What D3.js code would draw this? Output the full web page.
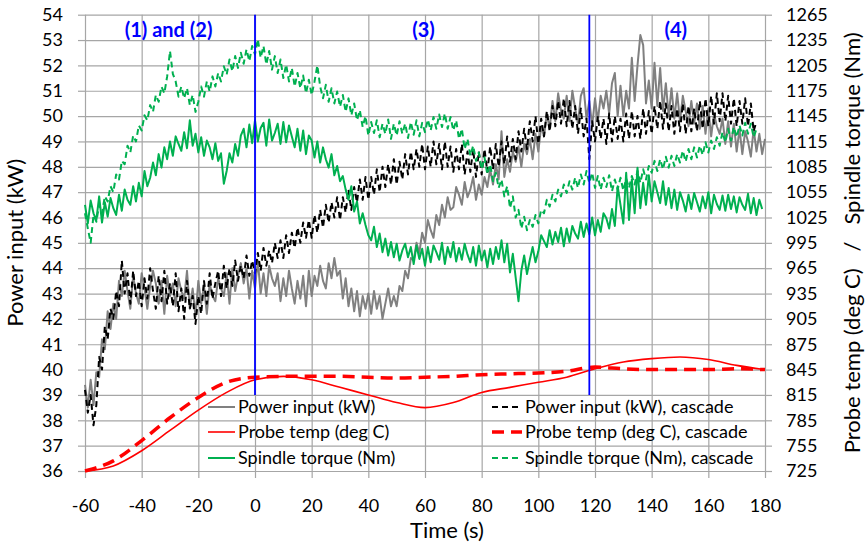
<!DOCTYPE html>
<html>
<head>
<meta charset="utf-8">
<script src="https://cdn.jsdelivr.net/npm/d3@7"></script>
<style>
  html, body { margin: 0; padding: 0; background: #fff; }
  svg { display: block; font-family: Lato, "Open Sans", sans-serif; }
</style>
</head>
<body>
<svg id="chart" width="867" height="549"></svg>
<script>
// ---- Data -------------------------------------------------------------
// Sampled once per second from t = -60 s to t = 180 s.
const startTime = -60;
const sampleStep = 1;

const xTicks = [-60, -40, -20, 0, 20, 40, 60, 80, 100, 120, 140, 160, 180];
const powerTicks = [36, 37, 38, 39, 40, 41, 42, 43, 44, 45, 46, 47, 48, 49, 50, 51, 52, 53, 54];
const rightTicks = [725, 755, 785, 815, 845, 875, 905, 935, 965, 995, 1025, 1055, 1085, 1115, 1145, 1175, 1205, 1235, 1265];

// Power input (kW)
const powerInput = [
  39.4, 38.5, 39.6, 38.6, 39.9, 39.7, 41.2, 40.8, 42.3, 41.6,
  42.6, 42.0, 43.5, 42.9, 43.9, 43.1, 42.4, 43.7, 43.0, 42.6,
  43.8, 43.2, 42.4, 43.3, 43.9, 43.4, 42.6, 43.5, 42.2, 43.7,
  42.9, 43.4, 42.5, 43.6, 43.1, 42.8, 43.9, 42.4, 43.2, 42.1,
  43.5, 42.6, 43.3, 42.2, 43.4, 42.9, 42.7, 43.6, 43.2, 42.9,
  43.8, 42.6, 44.0, 43.1, 43.7, 44.2, 43.4, 44.0, 42.8, 43.9,
  43.2, 44.3, 43.0, 43.8, 42.9, 44.1, 43.6, 43.3, 43.8, 42.7,
  43.6, 42.9, 43.9, 43.2, 42.6, 43.5, 42.8, 43.7, 42.5, 43.9,
  42.9, 43.7, 43.3, 44.1, 43.5, 43.2, 44.2, 43.6, 44.4, 43.7,
  43.9, 42.8, 43.6, 42.5, 43.2, 42.3, 43.1, 42.1, 42.9, 42.4,
  43.0, 42.2, 43.1, 42.4, 42.9, 42.0, 42.6, 43.2, 42.5, 42.9,
  42.5, 43.3, 43.1, 43.9, 43.6, 44.4, 44.3, 45.0, 44.6, 45.4,
  45.0, 45.9, 45.5, 45.2, 46.1, 45.7, 46.5, 46.0, 46.8, 46.3,
  46.4, 47.2, 46.9, 46.5, 47.4, 46.8, 47.1, 47.6, 46.7, 47.3,
  46.9, 47.6, 47.2, 47.9, 47.3, 48.1, 47.5, 49.4, 47.6, 48.3,
  47.8, 48.6, 48.2, 48.8, 48.0, 48.9, 48.5, 49.1, 48.3, 49.3,
  48.6, 49.6, 49.2, 50.1, 49.5, 50.6, 49.8, 50.9, 50.2, 49.9,
  50.8, 49.8, 51.0, 50.3, 49.7, 50.8, 51.1, 49.9, 50.6, 49.6,
  50.7, 49.8, 50.8, 50.3, 51.0, 50.1, 51.3, 51.7, 50.0, 51.2,
  50.0, 51.0, 50.3, 52.3, 50.6, 52.0, 53.2, 52.8, 50.5, 51.4,
  50.3, 52.1, 50.4, 51.9, 50.2, 51.3, 50.0, 51.1, 49.9, 50.9,
  49.8, 50.8, 50.2, 49.6, 50.6, 49.7, 50.5, 49.5, 50.4, 49.3,
  50.3, 49.2, 50.1, 49.6, 49.3, 49.9, 48.9, 49.8, 48.8, 49.7,
  48.6, 49.5, 48.5, 49.4, 49.0, 48.4, 49.5, 48.6, 49.3, 48.5,
  49.1
];

// Power input (kW), cascade
const powerInputCascade = [
  39.2, 38.3, 39.0, 37.8, 38.6, 40.5, 40.0, 41.7, 41.2, 42.4,
  42.0, 43.1, 42.5, 44.3, 43.0, 43.8, 42.6, 43.9, 42.9, 43.5,
  42.5, 43.6, 42.8, 44.0, 43.1, 42.4, 43.7, 42.7, 43.9, 42.6,
  43.4, 42.5, 43.8, 42.3, 43.2, 42.0, 43.5, 42.4, 42.9, 41.8,
  42.9, 42.2, 43.5, 42.6, 43.8, 42.8, 43.4, 43.9, 42.9, 44.1,
  43.2, 44.0, 43.3, 44.3, 43.5, 44.1, 43.6, 44.5, 43.7, 44.3,
  43.8, 44.6, 43.9, 44.8, 44.1, 44.7, 44.2, 45.0, 44.4, 45.1,
  44.4, 45.3, 44.6, 45.4, 44.8, 45.6, 45.0, 45.8, 45.2, 45.9,
  45.2, 46.1, 45.4, 46.3, 45.6, 46.5, 45.8, 46.6, 46.0, 46.8,
  45.9, 46.8, 46.2, 47.1, 46.3, 47.2, 46.6, 47.5, 46.7, 47.6,
  46.7, 47.6, 46.9, 47.9, 47.0, 48.0, 47.2, 48.1, 47.3, 48.3,
  47.3, 48.2, 47.5, 48.5, 47.7, 48.6, 47.9, 48.7, 48.0, 48.9,
  47.9, 48.8, 48.0, 49.0, 48.1, 48.9, 47.9, 49.0, 48.0, 48.8,
  47.8, 48.7, 47.9, 48.9, 47.7, 48.6, 47.8, 48.7, 47.6, 48.6,
  47.7, 48.7, 47.8, 48.8, 47.9, 48.9, 48.0, 49.0, 48.1, 49.2,
  48.2, 49.1, 48.3, 49.4, 48.6, 49.5, 48.7, 49.8, 49.0, 50.0,
  48.9, 49.9, 49.2, 50.2, 49.4, 50.4, 49.6, 50.6, 49.7, 50.7,
  49.6, 50.6, 49.5, 50.4, 49.3, 50.3, 49.2, 49.9, 48.3, 49.8,
  49.0, 50.0, 49.1, 49.9, 48.9, 50.1, 49.0, 50.0, 49.1, 49.9,
  49.0, 50.1, 49.1, 50.2, 49.2, 50.0, 49.1, 50.3, 49.3, 50.2,
  49.3, 50.4, 49.5, 50.6, 49.5, 50.5, 49.4, 50.4, 49.3, 50.3,
  49.4, 50.5, 49.3, 50.4, 49.4, 50.3, 49.4, 50.6, 49.5, 50.7,
  49.6, 50.8, 49.7, 50.9, 49.8, 50.9, 49.8, 50.8, 49.7, 50.7,
  49.6, 50.6, 49.7, 50.7, 49.6, 50.5, 49.4, 49.8, null, null,
  null
];

// Spindle torque (Nm)
const spindleTorque = [
  1040, 1018, 1045, 1030, 1022, 1050, 1019, 1043, 1026, 1048,
  1036, 1028, 1052, 1033, 1058, 1046, 1040, 1062, 1044, 1066,
  1050, 1080, 1062, 1072, 1090, 1075, 1100, 1084, 1108, 1094,
  1115, 1098, 1121, 1112, 1104, 1126, 1107, 1140, 1110, 1124,
  1102, 1120, 1098, 1116, 1108, 1094, 1113, 1092, 1101, 1065,
  1080, 1101, 1090, 1112, 1098, 1122, 1130, 1108, 1135, 1113,
  1140, 1115, 1131, 1137, 1110, 1141, 1116, 1125, 1136, 1112,
  1138, 1114, 1134, 1121, 1108, 1130, 1104, 1128, 1100, 1122,
  1116, 1096, 1115, 1090, 1108, 1094, 1084, 1100, 1075, 1086,
  1068, 1074, 1058, 1046, 1062, 1032, 1044, 1018, 1030, 1016,
  1004, 998, 1014, 990, 1006, 984, 1000, 980, 996, 978,
  994, 974, 986, 994, 978, 990, 970, 992, 976, 988,
  968, 990, 972, 992, 984, 975, 995, 970, 990, 978,
  996, 973, 989, 975, 994, 981, 972, 990, 968, 992,
  974, 986, 966, 988, 970, 990, 976, 998, 972, 994,
  960, 982, 954, 926, 962, 980, 958, 975, 990, 972,
  985, 1004, 997, 990, 1010, 993, 1008, 996, 1013, 991,
  1012, 996, 1015, 1006, 1000, 1020, 1002, 1018, 1005, 1025,
  1004, 1022, 1008, 1030, 1024, 1012, 1035, 1015, 1062, 1040,
  1018, 1078, 1022, 1070, 1030, 1084, 1036, 1066, 1040, 1075,
  1044, 1068, 1055, 1042, 1068, 1040, 1060, 1036, 1058, 1034,
  1055, 1045, 1032, 1052, 1035, 1054, 1043, 1032, 1050, 1036,
  1055, 1030, 1052, 1041, 1034, 1051, 1033, 1052, 1035, 1050,
  1031, 1049, 1040, 1034, 1053, 1030, 1048, 1028, 1046, 1035,
  null
];

// Spindle torque (Nm), cascade
const spindleTorqueCascade = [
  1030, 1012, 995, 1028, 1020, 1040, 1030, 1050, 1044, 1062,
  1055, 1076, 1070, 1092, 1088, 1110, 1102, 1122, 1115, 1134,
  1128, 1146, 1140, 1158, 1150, 1170, 1162, 1180, 1172, 1192,
  1222, 1195, 1186, 1168, 1180, 1166, 1178, 1158, 1170, 1150,
  1162, 1180, 1168, 1186, 1174, 1192, 1180, 1196, 1186, 1204,
  1194, 1212, 1198, 1216, 1202, 1220, 1207, 1224, 1210, 1228,
  1218, 1236, 1214, 1228, 1206, 1222, 1200, 1216, 1196, 1212,
  1190, 1206, 1186, 1202, 1180, 1196, 1178, 1193, 1172, 1188,
  1170, 1186, 1205, 1180, 1166, 1182, 1162, 1178, 1160, 1174,
  1156, 1170, 1150, 1166, 1146, 1160, 1140, 1152, 1132, 1145,
  1122, 1138, 1125, 1140, 1120, 1136, 1124, 1141, 1118, 1136,
  1122, 1139, 1124, 1136, 1119, 1138, 1123, 1140, 1121, 1137,
  1126, 1141, 1128, 1144, 1130, 1147, 1132, 1148, 1130, 1144,
  1128, 1140, 1118, 1130, 1106, 1118, 1098, 1110, 1092, 1102,
  1082, 1096, 1076, 1088, 1068, 1078, 1060, 1070, 1050, 1062,
  1036, 1050, 1025, 1034, 1012, 1026, 1010, 1022, 1014, 1028,
  1018, 1034, 1030, 1046, 1038, 1052, 1044, 1058, 1050, 1064,
  1054, 1068, 1058, 1072, 1060, 1076, 1064, 1080, 1066, 1078,
  1060, 1074, 1058, 1072, 1061, 1075, 1056, 1070, 1058, 1072,
  1057, 1071, 1060, 1074, 1064, 1080, 1066, 1082, 1070, 1086,
  1078, 1092, 1080, 1094, 1082, 1097, 1084, 1098, 1086, 1100,
  1090, 1104, 1091, 1106, 1094, 1108, 1096, 1110, 1099, 1114,
  1102, 1116, 1106, 1120, 1110, 1126, 1114, 1130, 1116, 1132,
  1120, 1134, 1122, 1137, 1124, 1136, 1120, 1130, null, null,
  null
];

// Probe temperature (deg C), every 10 s
const tempTimes = [-60, -50, -40, -30, -20, -10, 0, 10, 20, 30, 40, 50, 60, 70, 80, 90, 100, 110, 120, 130, 140, 150, 160, 170, 180];
const probeTemp = [725, 731, 749, 773, 797, 818, 833, 837, 833, 824, 815, 806, 800, 806, 818, 824, 830, 836, 846, 854, 858, 860, 857, 850, 845];
const probeTempCascade = [725, 737, 761, 788, 812, 830, 836, 837, 837, 837, 836, 835, 836, 837, 839, 840, 841, 843, 848, 846, 845, 845, 845, 846, 845];

// Phase boundaries (s) and phase labels
const phaseBounds = [0, 118];
const phaseBoundRange = [39, 54];
const phaseLabels = [
  { text: "(1) and (2)", t: -30.5 },
  { text: "(3)", t: 59.5 },
  { text: "(4)", t: 148.5 }
];

// ---- Layout -----------------------------------------------------------
const margin = { left: 85, top: 14.7, right: 102, bottom: 78 };
const svg = d3.select("#chart");
const width = 867 - margin.left - margin.right;   // 680
const height = 549 - margin.top - margin.bottom;  // ~456
const g = svg.append("g").attr("transform", `translate(${margin.left},${margin.top})`);

const x = d3.scaleLinear().domain([-60, 180]).range([0, width]);
const yL = d3.scaleLinear().domain([36, 54]).range([height, 0]);
const yR = d3.scaleLinear().domain([725, 1265]).range([height, 0]);

const gridColor = "#a6a6a6";
const font = "Lato, 'Open Sans', sans-serif";
const plainNumber = d => String(d);

// Gridlines
g.append("g").attr("class", "grid-h")
  .call(d3.axisLeft(yL).tickValues(powerTicks).tickSize(-width).tickFormat(""))
  .call(s => s.select(".domain").remove())
  .call(s => s.selectAll("line").attr("stroke", gridColor).attr("stroke-width", 1.2));
g.append("g").attr("class", "grid-v")
  .call(d3.axisBottom(x).tickValues(xTicks).tickSize(height).tickFormat(""))
  .call(s => s.select(".domain").remove())
  .call(s => s.selectAll("line").attr("stroke", gridColor).attr("stroke-width", 1.2));

// Axes
function styleAxis(s) {
  s.select(".domain").remove();
  s.selectAll("line").attr("stroke", gridColor).attr("stroke-width", 1.2);
  s.selectAll("text").attr("fill", "#000").style("font-family", font).style("font-size", "18px");
}
g.append("g")
  .call(d3.axisLeft(yL).tickValues(powerTicks).tickFormat(plainNumber).tickSize(7).tickPadding(15))
  .call(styleAxis);
g.append("g").attr("transform", `translate(${width},0)`)
  .call(d3.axisRight(yR).tickValues(rightTicks).tickFormat(plainNumber).tickSize(7).tickPadding(14))
  .call(styleAxis);
g.append("g").attr("transform", `translate(0,${height})`)
  .call(d3.axisBottom(x).tickValues(xTicks).tickFormat(plainNumber).tickSize(7).tickPadding(20))
  .call(styleAxis)
  .call(s => s.selectAll("text").attr("dy", null).attr("y", 41));

// Axis titles
svg.append("text")
  .attr("transform", `translate(23,${margin.top + height / 2}) rotate(-90)`)
  .attr("text-anchor", "middle")
  .style("font-family", font).style("font-size", "22px").attr("fill", "#000")
  .text("Power input (kW)");
svg.append("text")
  .attr("transform", `translate(860,${margin.top + height / 2}) rotate(-90)`)
  .attr("text-anchor", "middle")
  .style("font-family", font).style("font-size", "22px").style("white-space", "pre").attr("fill", "#000")
  .text("Probe temp (deg C)   /   Spindle torque (Nm)");
svg.append("text")
  .attr("x", 447).attr("y", 538)
  .attr("text-anchor", "middle")
  .style("font-family", font).style("font-size", "22px").attr("fill", "#000")
  .text("Time (s)");

// ---- Series -----------------------------------------------------------
const toPoints = arr => arr.map((v, i) => ({ t: startTime + i * sampleStep, v }));
const lineL = d3.line().defined(d => d.v != null).x(d => x(d.t)).y(d => yL(d.v));
const lineR = d3.line().defined(d => d.v != null).x(d => x(d.t)).y(d => yR(d.v));
const smoothR = d3.line().x(d => x(d.t)).y(d => yR(d.v)).curve(d3.curveMonotoneX);

const plot = g.append("g");

const series = [
  { name: "Power input (kW)", data: toPoints(powerInput), gen: lineL, color: "#808080", w: 2, dash: null },
  { name: "Power input (kW), cascade", data: toPoints(powerInputCascade), gen: lineL, color: "#000000", w: 2, dash: "6,4" },
  { name: "Probe temp (deg C)", data: tempTimes.map((t, i) => ({ t, v: probeTemp[i] })), gen: smoothR, color: "#ff0000", w: 1.6, dash: null },
  { name: "Probe temp (deg C), cascade", data: tempTimes.map((t, i) => ({ t, v: probeTempCascade[i] })), gen: smoothR, color: "#ff0000", w: 3.5, dash: "12,7" },
  { name: "Spindle torque (Nm)", data: toPoints(spindleTorque), gen: lineR, color: "#00b050", w: 2, dash: null },
  { name: "Spindle torque (Nm), cascade", data: toPoints(spindleTorqueCascade), gen: lineR, color: "#00b050", w: 2, dash: "6,4" }
];

series.forEach(s => {
  plot.append("path")
    .datum(s.data)
    .attr("fill", "none")
    .attr("stroke", s.color)
    .attr("stroke-width", s.w)
    .attr("stroke-dasharray", s.dash)
    .attr("stroke-linejoin", "round")
    .attr("d", s.gen);
});

// Phase boundaries
g.selectAll(".phase").data(phaseBounds).join("line")
  .attr("x1", d => x(d)).attr("x2", d => x(d))
  .attr("y1", yL(phaseBoundRange[0])).attr("y2", yL(phaseBoundRange[1]))
  .attr("stroke", "#0000ff").attr("stroke-width", 1.8);

g.selectAll(".phase-label").data(phaseLabels).join("text")
  .attr("x", d => x(d.t)).attr("y", 22)
  .attr("text-anchor", "middle")
  .style("font-family", font).style("font-size", "20px").style("font-weight", "bold")
  .attr("fill", "#0000ff")
  .text(d => d.text);

// ---- Legend -------------------------------------------------------------
const legendOrder = [0, 2, 4, 1, 3, 5];
const legendCols = [{ x: 208 - margin.left, len: 27 }, { x: 492 - margin.left, len: 30 }];
const legendRows = [407, 432, 458].map(v => v - margin.top);
const legend = g.append("g");
legendOrder.forEach((si, k) => {
  const s = series[si];
  const col = legendCols[Math.floor(k / 3)];
  const ry = legendRows[k % 3];
  legend.append("line")
    .attr("x1", col.x).attr("x2", col.x + col.len)
    .attr("y1", ry).attr("y2", ry)
    .attr("stroke", s.color)
    .attr("stroke-width", s.w)
    .attr("stroke-dasharray", s.dash);
  legend.append("text")
    .attr("x", col.x + col.len + 3).attr("y", ry)
    .attr("dy", "0.35em")
    .style("font-family", font).style("font-size", "18px")
    .attr("fill", "#000")
    .text(s.name);
});
</script>
</body>
</html>
